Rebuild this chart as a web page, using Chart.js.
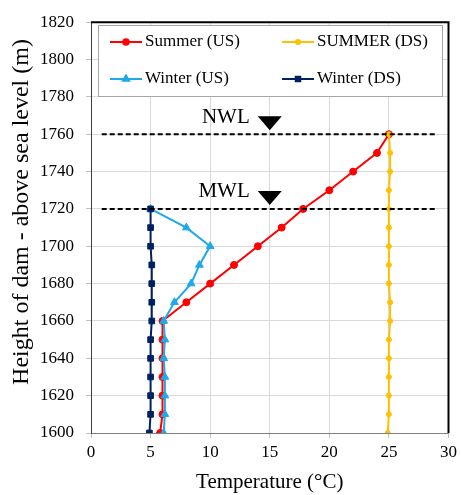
<!DOCTYPE html>
<html>
<head>
<meta charset="utf-8">
<script src="https://cdn.jsdelivr.net/npm/chart.js@4/dist/chart.umd.min.js"></script>
<style>
  html, body { margin: 0; padding: 0; background: #fff; }
  #wrap { width: 461px; height: 495px; }
</style>
</head>
<body>
<div id="wrap"><canvas id="c" width="461" height="495"></canvas></div>
<script>
// heights (m) of the measuring points
const heightsSummer = [1600, 1610, 1620, 1630, 1640, 1650, 1660, 1670, 1680, 1690, 1700, 1710, 1720, 1730, 1740, 1750, 1760];
const heightsWinter = [1600, 1610, 1620, 1630, 1640, 1650, 1660, 1670, 1680, 1690, 1700, 1710, 1720];

// temperatures (°C)
const summerUS = [5.8, 6, 6, 6, 6, 6, 6, 8, 10, 12, 14, 16, 17.8, 20, 22, 24, 25];
const summerDS = [24.9, 25, 25, 25, 25, 25, 25.1, 25.1, 25, 25, 25, 25, 25, 25, 25.1, 25.1, 25];
const winterUS = [6.1, 6.2, 6.2, 6.2, 6.1, 6.2, 6.1, 7, 8.4, 9.1, 10, 8, 5];
const winterDS = [4.9, 5, 5, 5, 5, 5, 5.1, 5.1, 5.1, 5.1, 5, 5, 5];

const seriesNames = ['Summer (US)', 'SUMMER (DS)', 'Winter (US)', 'Winter (DS)'];

// water levels
const levelNames = ['NWL', 'MWL'];
const levelHeights = [1760, 1720];
const levelMarkX = 15;

const serif = "'Liberation Serif', 'Times New Roman', serif";

function pts(xs, ys) {
  return xs.map((v, i) => ({ x: v, y: ys[i] }));
}

const styles = [
  { color: '#ff0000', point: 'circle', r: 3.5 },
  { color: '#ffc000', point: 'circle', r: 2.5 },
  { color: '#1fa9ea', point: 'triangle', r: 4.5 },
  { color: '#002060', point: 'rect', r: 4 }
];

const allData = [
  pts(summerUS, heightsSummer),
  pts(summerDS, heightsSummer),
  pts(winterUS, heightsWinter),
  pts(winterDS, heightsWinter)
];

const datasets = allData.map((d, i) => ({
  label: seriesNames[i],
  data: d,
  showLine: true,
  borderColor: styles[i].color,
  backgroundColor: styles[i].color,
  borderWidth: 2,
  pointStyle: styles[i].point,
  pointRadius: styles[i].r,
  pointBorderWidth: 1,
  order: 4 - i
}));

const framePlugin = {
  id: 'frame',
  afterDatasetsDraw(chart) {
    const { ctx, chartArea: a, scales } = chart;
    ctx.save();
    // level lines
    levelHeights.forEach((h, i) => {
      const y = scales.y.getPixelForValue(h);
      ctx.strokeStyle = '#000';
      ctx.lineWidth = 2;
      ctx.setLineDash([5, 3]);
      ctx.beginPath();
      ctx.moveTo(scales.x.getPixelForValue(0.9), y);
      ctx.lineTo(scales.x.getPixelForValue(29.1), y);
      ctx.stroke();
      ctx.setLineDash([]);
      const cx = scales.x.getPixelForValue(levelMarkX);
      ctx.fillStyle = '#000';
      ctx.beginPath();
      ctx.moveTo(cx - 12, y - 18);
      ctx.lineTo(cx + 12, y - 18);
      ctx.lineTo(cx, y - 4);
      ctx.closePath();
      ctx.fill();
      ctx.font = '21px ' + serif;
      ctx.textAlign = 'right';
      ctx.textBaseline = 'middle';
      ctx.fillText(levelNames[i], cx - 20, y - 17);
    });

    // top and right border
    ctx.strokeStyle = '#000';
    ctx.lineWidth = 2;
    ctx.beginPath();
    ctx.moveTo(a.left, a.top);
    ctx.lineTo(a.right, a.top);
    ctx.lineTo(a.right, a.bottom);
    ctx.stroke();

    // legend box
    const lx = 98, ly = 25, lw = 344, lh = 71;
    ctx.fillStyle = '#fff';
    ctx.fillRect(lx, ly, lw, lh);
    ctx.strokeStyle = '#a6a6a6';
    ctx.lineWidth = 1;
    ctx.strokeRect(lx + 0.5, ly + 0.5, lw, lh);
    const cols = [110, 282];
    const rows = [42, 79];
    ctx.font = '17px ' + serif;
    ctx.textAlign = 'left';
    ctx.textBaseline = 'middle';
    seriesNames.forEach((name, i) => {
      const x0 = cols[i % 2], y0 = rows[Math.floor(i / 2)];
      const s = styles[i];
      ctx.strokeStyle = s.color;
      ctx.lineWidth = 2;
      ctx.beginPath();
      ctx.moveTo(x0, y0);
      ctx.lineTo(x0 + 32, y0);
      ctx.stroke();
      ctx.fillStyle = s.color;
      Chart.helpers.drawPoint(ctx, { pointStyle: s.point, radius: s.r * 0.8, borderWidth: 1 }, x0 + 16, y0);
      ctx.fillStyle = '#000';
      ctx.fillText(name, x0 + 35, y0);
    });

    // y axis title
    ctx.save();
    ctx.translate(22, 212);
    ctx.rotate(-Math.PI / 2);
    ctx.font = '24px ' + serif;
    ctx.textAlign = 'center';
    ctx.textBaseline = 'middle';
    ctx.fillStyle = '#000';
    ctx.fillText('Height of dam - above sea level (m)', 0, 0);
    ctx.restore();
    ctx.restore();
  }
};

new Chart(document.getElementById('c'), {
  type: 'scatter',
  data: { datasets: datasets },
  options: {
    responsive: false,
    animation: false,
    layout: { padding: { left: 0, top: 19, right: 8, bottom: 0 } },
    plugins: { legend: { display: false }, tooltip: { enabled: false } },
    scales: {
      x: {
        type: 'linear',
        min: 0,
        max: 30,
        afterFit: (s) => { s.height = 62; },
        ticks: { stepSize: 5, color: '#000', padding: 4, font: { family: serif, size: 17 } },
        grid: { color: '#d9d9d9', tickColor: '#bfbfbf', tickLength: 5 },
        border: { color: '#808080', width: 1 },
        title: {
          display: true,
          text: 'Temperature (°C)',
          color: '#000',
          font: { family: serif, size: 21 },
          padding: { top: 0, bottom: 0 }
        }
      },
      y: {
        type: 'linear',
        min: 1600,
        max: 1820,
        afterFit: (s) => { s.width = 91; },
        ticks: {
          stepSize: 20,
          color: '#000',
          padding: 12,
          font: { family: serif, size: 17 },
          callback: (v) => String(v)
        },
        grid: { color: '#d9d9d9', tickColor: '#bfbfbf', tickLength: 5 },
        border: { color: '#404040', width: 1 }
      }
    }
  },
  plugins: [framePlugin]
});
</script>
</body>
</html>
